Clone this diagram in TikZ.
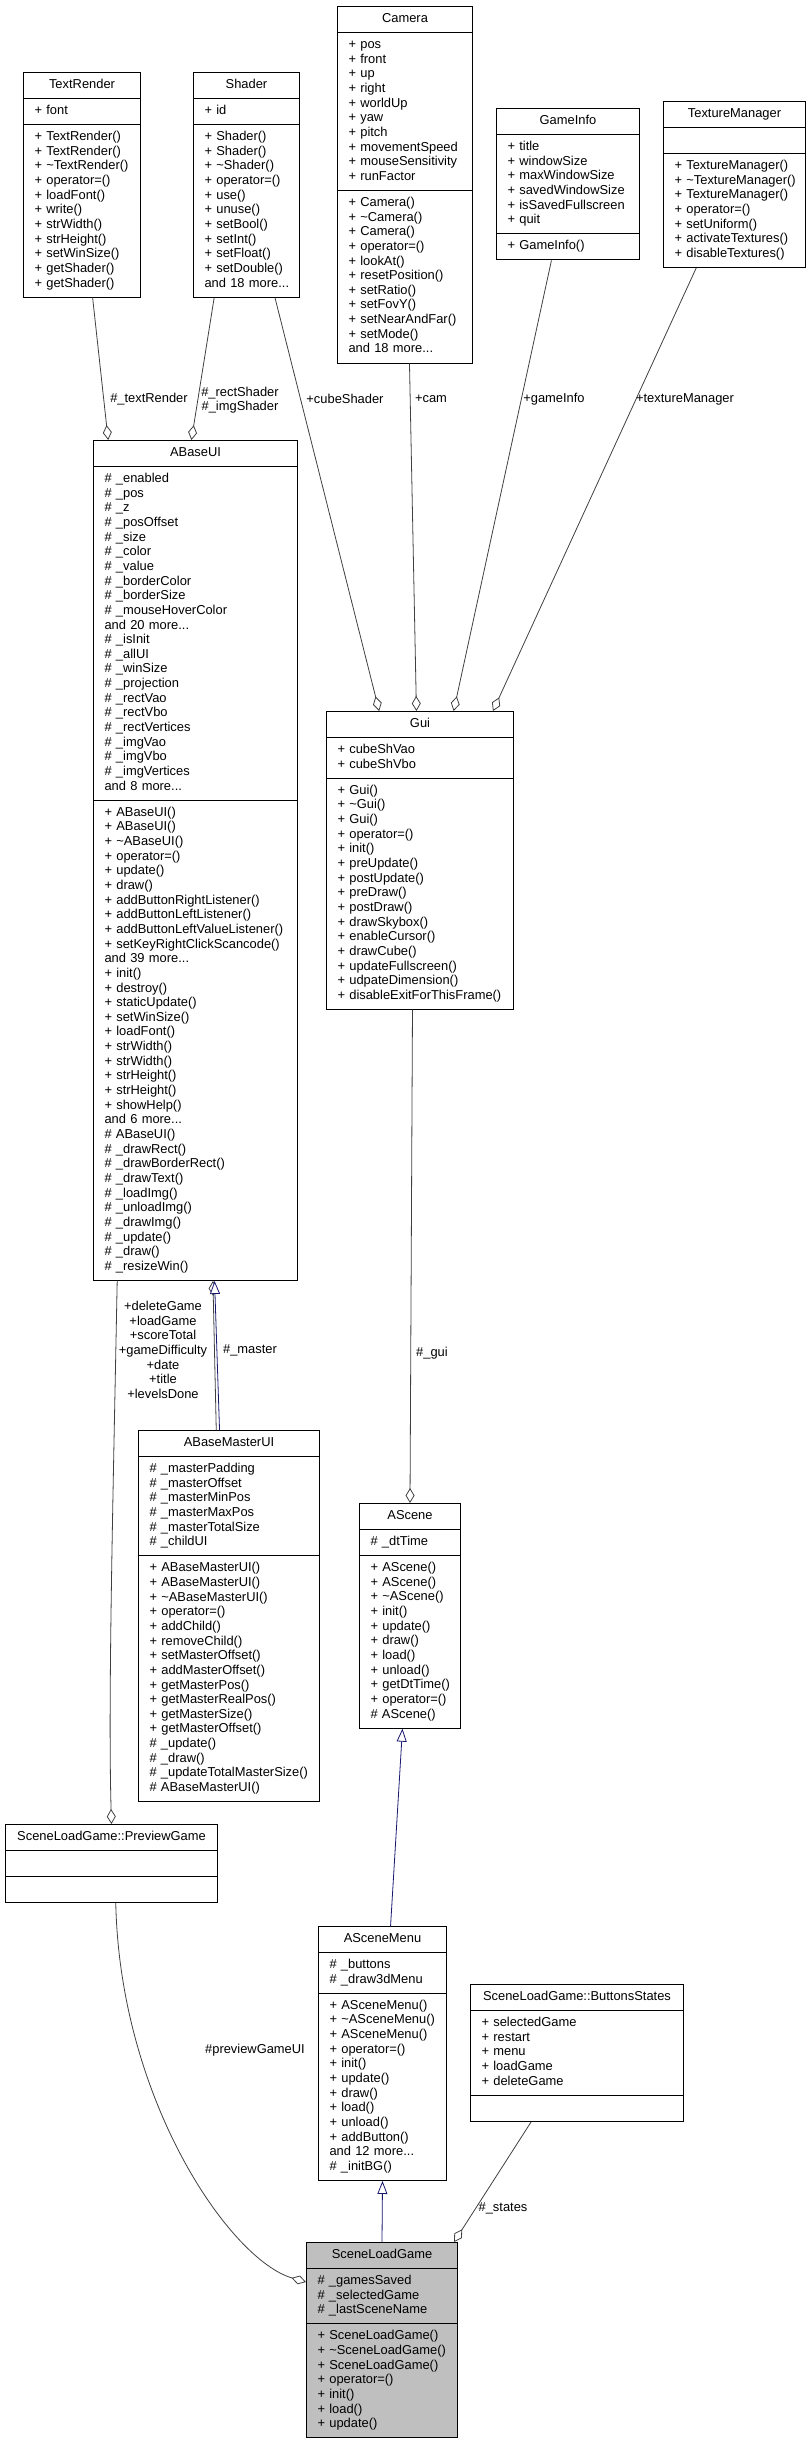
\documentclass[tikz,border=0pt]{standalone}
\usepackage{fontspec}
\setmainfont{Liberation Sans}
\usetikzlibrary{shapes.multipart,arrows.meta,calc}

\definecolor{edgegrey}{HTML}{404040}
\definecolor{inhblue}{HTML}{191970}
\definecolor{focusgrey}{HTML}{BFBFBF}

\hyphenpenalty=10000
\exhyphenpenalty=10000

% title / attributes / methods of one class box
\newcommand{\classparts}[3]{\makebox[\hsize]{\strut#1\strut}%
  \nodepart{two}\strut#2\strut
  \nodepart{three}\strut#3\strut}

\tikzset{
  classbox/.style={rectangle split, rectangle split parts=3, draw=black, line width=1pt,
    fill=white, inner xsep=11pt, inner ysep=5.2pt, text width=#1, align=left,
    anchor=north west, font=\fontsize{12.9}{14.65}\selectfont},
  lbl/.style={inner sep=0pt, align=center, font=\fontsize{12.9}{14.65}\selectfont},
  aggr/.style={draw=edgegrey, line width=0.8pt, -{Diamond[length=15pt,width=9pt,fill=white]}},
  inh/.style={draw=inhblue, line width=0.8pt, -{Triangle[length=13pt,width=10pt,fill=white]}},
}

\begin{document}
\begin{tikzpicture}[x=1pt,y=-1pt]
      \useasboundingbox (0,0) rectangle (811,2441);
      % classes
      \node[classbox=95pt] (textrender) at (23,72) {\classparts{TextRender}{+~font}{+~TextRender()\\+~TextRender()\\+~\textasciitilde TextRender()\\+~operator=()\\+~loadFont()\\+~write()\\+~strWidth()\\+~strHeight()\\+~setWinSize()\\+~getShader()\\+~getShader()}};
      \node[classbox=84pt] (shader) at (193,72) {\classparts{Shader}{+~id}{+~Shader()\\+~Shader()\\+~\textasciitilde Shader()\\+~operator=()\\+~use()\\+~unuse()\\+~setBool()\\+~setInt()\\+~setFloat()\\+~setDouble()\\and~18~more...}};
      \node[classbox=113pt] (camera) at (337,6) {\classparts{Camera}{+~pos\\+~front\\+~up\\+~right\\+~worldUp\\+~yaw\\+~pitch\\+~movementSpeed\\+~mouseSensitivity\\+~runFactor}{+~Camera()\\+~\textasciitilde Camera()\\+~Camera()\\+~operator=()\\+~lookAt()\\+~resetPosition()\\+~setRatio()\\+~setFovY()\\+~setNearAndFar()\\+~setMode()\\and~18~more...}};
      \node[classbox=121pt] (gameinfo) at (496,108) {\classparts{GameInfo}{+~title\\+~windowSize\\+~maxWindowSize\\+~savedWindowSize\\+~isSavedFullscreen\\+~quit}{+~GameInfo()}};
      \node[classbox=120pt] (texturemanager) at (663,101) {\classparts{TextureManager}{}{+~TextureManager()\\+~\textasciitilde TextureManager()\\+~TextureManager()\\+~operator=()\\+~setUniform()\\+~activateTextures()\\+~disableTextures()}};
      \node[classbox=182pt] (abaseui) at (93,440) {\classparts{ABaseUI}{\#~\_enabled\\\#~\_pos\\\#~\_z\\\#~\_posOffset\\\#~\_size\\\#~\_color\\\#~\_value\\\#~\_borderColor\\\#~\_borderSize\\\#~\_mouseHoverColor\\and~20~more...\\\#~\_isInit\\\#~\_allUI\\\#~\_winSize\\\#~\_projection\\\#~\_rectVao\\\#~\_rectVbo\\\#~\_rectVertices\\\#~\_imgVao\\\#~\_imgVbo\\\#~\_imgVertices\\and~8~more...}{+~ABaseUI()\\+~ABaseUI()\\+~\textasciitilde ABaseUI()\\+~operator=()\\+~update()\\+~draw()\\+~addButtonRightListener()\\+~addButtonLeftListener()\\+~addButtonLeftValueListener()\\+~setKeyRightClickScancode()\\and~39~more...\\+~init()\\+~destroy()\\+~staticUpdate()\\+~setWinSize()\\+~loadFont()\\+~strWidth()\\+~strWidth()\\+~strHeight()\\+~strHeight()\\+~showHelp()\\and~6~more...\\\#~ABaseUI()\\\#~\_drawRect()\\\#~\_drawBorderRect()\\\#~\_drawText()\\\#~\_loadImg()\\\#~\_unloadImg()\\\#~\_drawImg()\\\#~\_update()\\\#~\_draw()\\\#~\_resizeWin()}};
      \node[classbox=165pt] (gui) at (326,711) {\classparts{Gui}{+~cubeShVao\\+~cubeShVbo}{+~Gui()\\+~\textasciitilde Gui()\\+~Gui()\\+~operator=()\\+~init()\\+~preUpdate()\\+~postUpdate()\\+~preDraw()\\+~postDraw()\\+~drawSkybox()\\+~enableCursor()\\+~drawCube()\\+~updateFullscreen()\\+~udpateDimension()\\+~disableExitForThisFrame()}};
      \node[classbox=159pt] (abasemasterui) at (138,1430) {\classparts{ABaseMasterUI}{\#~\_masterPadding\\\#~\_masterOffset\\\#~\_masterMinPos\\\#~\_masterMaxPos\\\#~\_masterTotalSize\\\#~\_childUI}{+~ABaseMasterUI()\\+~ABaseMasterUI()\\+~\textasciitilde ABaseMasterUI()\\+~operator=()\\+~addChild()\\+~removeChild()\\+~setMasterOffset()\\+~addMasterOffset()\\+~getMasterPos()\\+~getMasterRealPos()\\+~getMasterSize()\\+~getMasterOffset()\\\#~\_update()\\\#~\_draw()\\\#~\_updateTotalMasterSize()\\\#~ABaseMasterUI()}};
      \node[classbox=79pt] (ascene) at (359,1503) {\classparts{AScene}{\#~\_dtTime}{+~AScene()\\+~AScene()\\+~\textasciitilde AScene()\\+~init()\\+~update()\\+~draw()\\+~load()\\+~unload()\\+~getDtTime()\\+~operator=()\\\#~AScene()}};
      \node[classbox=190pt] (previewgame) at (5,1824) {\classparts{SceneLoadGame::PreviewGame}{}{}};
      \node[classbox=106pt] (ascenemenu) at (318,1926) {\classparts{ASceneMenu}{\#~\_buttons\\\#~\_draw3dMenu}{+~ASceneMenu()\\+~\textasciitilde ASceneMenu()\\+~ASceneMenu()\\+~operator=()\\+~init()\\+~update()\\+~draw()\\+~load()\\+~unload()\\+~addButton()\\and~12~more...\\\#~\_initBG()}};
      \node[classbox=191pt] (buttonsstates) at (470,1984) {\classparts{SceneLoadGame::ButtonsStates}{+~selectedGame\\+~restart\\+~menu\\+~loadGame\\+~deleteGame}{}};
      \node[classbox=129pt, fill=focusgrey] (sceneloadgame) at (306,2242) {\classparts{SceneLoadGame}{\#~\_gamesSaved\\\#~\_selectedGame\\\#~\_lastSceneName}{+~SceneLoadGame()\\+~\textasciitilde SceneLoadGame()\\+~SceneLoadGame()\\+~operator=()\\+~init()\\+~load()\\+~update()}};
      % connectors
      \begin{scope}[every edge/.style={draw}]
        \path ($(textrender.south west)!.59!(textrender.south east)$) edge[aggr] ($(abaseui.north west)!.074!(abaseui.north east)$);
        \path ($(shader.south west)!.198!(shader.south east)$) edge[aggr] ($(abaseui.north west)!.48!(abaseui.north east)$);
        \path ($(shader.south west)!.766!(shader.south east)$) edge[aggr] ($(gui.north west)!.283!(gui.north east)$);
        \path ($(camera.south west)!.533!(camera.south east)$) edge[aggr] ($(gui.north west)!.481!(gui.north east)$);
        \path ($(gameinfo.south west)!.385!(gameinfo.south east)$) edge[aggr] ($(gui.north west)!.679!(gui.north east)$);
        \path ($(texturemanager.south west)!.232!(texturemanager.south east)$) edge[aggr] ($(gui.north west)!.888!(gui.north east)$);
        \path ($(abasemasterui.north west)!.43!(abasemasterui.north east)$) edge[aggr] ($(abaseui.south west)!.585!(abaseui.south east)$);
        \path ($(abasemasterui.north west)!.448!(abasemasterui.north east)$) edge[inh] ($(abaseui.south west)!.593!(abaseui.south east)$);
        \path ($(gui.south west)!.46!(gui.south east)$) edge[aggr] (ascene.north);
        \path ($(ascenemenu.north west)!.5625!(ascenemenu.north east)$) edge[inh] ($(ascene.south west)!.426!(ascene.south east)$);
        \path (sceneloadgame.north) edge[inh] (ascenemenu.south);
        \path ($(buttonsstates.south west)!.286!(buttonsstates.south east)$) edge[aggr] ($(sceneloadgame.north west)!.974!(sceneloadgame.north east)$);
      \end{scope}
      \draw[aggr] ($(abaseui.south west)!.118!(abaseui.south east)$) .. controls (113,1500) and (108,1700) .. (previewgame.north);
      \draw[aggr] ($(previewgame.south west)!.52!(previewgame.south east)$) .. controls (120,2100) and (230,2260) .. ($(sceneloadgame.north west)+(0,40)$);
      % connector labels
      \begin{scope}[every node/.style={lbl}]
        \node (l-textrender) at (149,399) {\#\_textRender};
        \node (l-shaders) at (240,400) {\#\_rectShader\\\#\_imgShader};
        \node (l-cubeshader) at (345,399) {+cubeShader};
        \node (l-cam) at (431,399) {+cam};
        \node (l-gameinfo) at (554,399) {+gameInfo};
        \node (l-texturemanager) at (685,399) {+textureManager};
        \node (l-previewbuttons) at (163,1350) {+deleteGame\\+loadGame\\+scoreTotal\\+gameDifficulty\\+date\\+title\\+levelsDone};
        \node (l-master) at (250,1350) {\#\_master};
        \node (l-gui) at (432,1353) {\#\_gui};
        \node (l-previewgameui) at (255,2050) {\#previewGameUI};
        \node (l-states) at (503,2208) {\#\_states};
      \end{scope}
    \end{tikzpicture}
\end{document}
